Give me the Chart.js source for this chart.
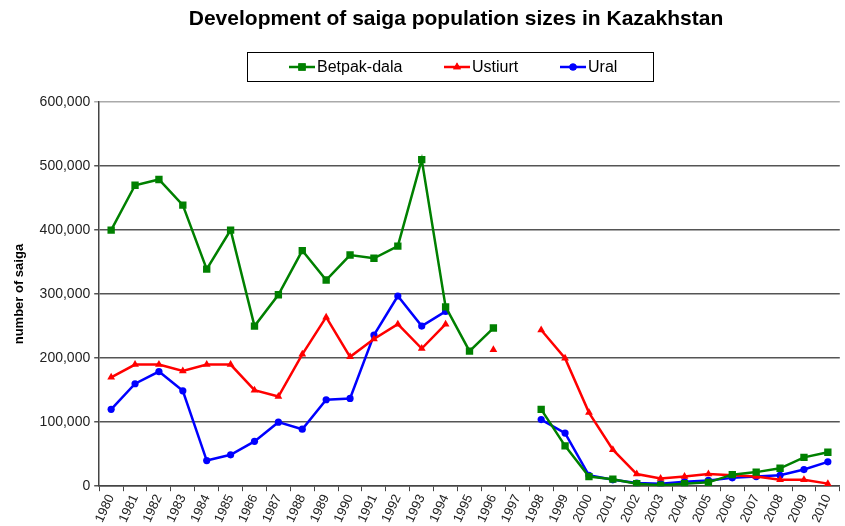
<!DOCTYPE html>
<html>
<head>
<meta charset="utf-8">
<script src="https://cdn.jsdelivr.net/npm/chart.js@4/dist/chart.umd.min.js"></script>
<style>
  html, body { margin: 0; padding: 0; background: #fff; }
  #wrap { width: 845px; height: 526px; }
</style>
</head>
<body>
<div id="wrap"><canvas id="saigaChart" width="845" height="526"></canvas></div>
<script>
const chartTitle = 'Development of saiga population sizes in Kazakhstan';

const years = ['1980','1981','1982','1983','1984','1985','1986','1987','1988','1989',
  '1990','1991','1992','1993','1994','1995','1996','1997','1998','1999',
  '2000','2001','2002','2003','2004','2005','2006','2007','2008','2009','2010'];

const betpakDala = [400000, 470000, 479000, 439000, 339000, 400000, 250000, 299000, 368000, 322000,
  361000, 356000, 375000, 510000, 280000, 211000, 247000, null, 120000, 63000,
  15000, 11000, 4000, 1500, 4000, 6000, 18000, 22000, 28000, 45000, 53000];

const ustiurt = [170000, 190000, 190000, 180000, 190000, 190000, 150000, 140000, 206000, 264000,
  202000, 230000, 253000, 215000, 253000, null, 213000, null, 244000, 200000,
  115000, 57000, 19000, 12000, 15000, 19000, 17000, 15000, 10000, 10000, 4000];

const ural = [120000, 160000, 179000, 149000, 40000, 49000, 70000, 100000, 89000, 135000,
  137000, 236000, 297000, 250000, 273000, null, null, null, 104000, 83000,
  17000, 10000, 5000, 4000, 7000, 9000, 13000, 15000, 17000, 26000, 38000];

const fontFamily = '"Liberation Sans", Arial, sans-serif';

// title + boxed legend with line/marker swatches, drawn above the plot
const headerPlugin = {
  id: 'header',
  afterDraw(chart) {
    const ctx = chart.ctx;
    ctx.save();
    ctx.fillStyle = '#000';
    ctx.font = 'bold 21px ' + fontFamily;
    ctx.textAlign = 'center';
    ctx.textBaseline = 'middle';
    ctx.fillText(chartTitle, 456, 19);

    ctx.strokeStyle = '#000';
    ctx.lineWidth = 1;
    ctx.strokeRect(247.5, 52.5, 406, 29);

    const xs = [289, 444, 560];
    ctx.font = '16px ' + fontFamily;
    ctx.textAlign = 'left';
    chart.data.datasets.forEach((ds, i) => {
      const x = xs[i], y = 67;
      ctx.strokeStyle = ds.borderColor;
      ctx.fillStyle = ds.borderColor;
      ctx.lineWidth = 2.5;
      ctx.beginPath(); ctx.moveTo(x, y); ctx.lineTo(x + 26, y); ctx.stroke();
      Chart.helpers.drawPoint(ctx, { pointStyle: ds.pointStyle, radius: ds.pointRadius, borderWidth: 0 }, x + 13, y);
      ctx.fill();
      ctx.fillStyle = '#000';
      ctx.fillText(ds.label, x + 28, y + 1);
    });
    ctx.restore();
  }
};

const mk = (label, data, color, style, radius) => ({
  label: label,
  data: data,
  borderColor: color,
  backgroundColor: color,
  borderWidth: 2.5,
  pointStyle: style,
  pointRadius: radius,
  pointHoverRadius: radius,
  pointBorderWidth: 0,
  tension: 0,
  spanGaps: false
});

new Chart(document.getElementById('saigaChart'), {
  type: 'line',
  data: {
    labels: years,
    datasets: [
      mk('Betpak-dala', betpakDala, '#008000', 'rect', 5.2),
      mk('Ustiurt', ustiurt, '#ff0000', 'triangle', 4.5),
      mk('Ural', ural, '#0000ff', 'circle', 3.6)
    ]
  },
  options: {
    responsive: false,
    animation: false,
    layout: { padding: { left: 12, right: 0, top: 102, bottom: 0 } },
    plugins: {
      title: { display: false },
      legend: { display: false },
      tooltip: { enabled: false }
    },
    scales: {
      x: {
        offset: true,
        grid: {
          display: true,
          offset: true,
          drawOnChartArea: false,
          drawTicks: true,
          tickLength: 5,
          color: '#444'
        },
        border: { color: '#444', width: 1.5 },
        ticks: {
          color: '#222',
          font: { family: fontFamily, size: 13 },
          minRotation: 65,
          maxRotation: 65,
          autoSkip: false,
          padding: 1
        }
      },
      y: {
        min: 0,
        max: 600000,
        ticks: {
          stepSize: 100000,
          color: '#222',
          font: { family: fontFamily, size: 14 },
          padding: 4,
          callback: v => v.toLocaleString('en-US')
        },
        grid: {
          color: ctx => ctx.tick && ctx.tick.value === 600000 ? '#aaa' : '#555',
          lineWidth: 1.5,
          tickLength: 5,
          drawTicks: true
        },
        border: { color: '#444', width: 1.5 },
        title: {
          display: true,
          text: 'number of saiga',
          color: '#000',
          font: { family: fontFamily, size: 13, weight: 'bold' },
          padding: { top: 0, bottom: 8 }
        }
      }
    }
  },
  plugins: [headerPlugin]
});
</script>
</body>
</html>
